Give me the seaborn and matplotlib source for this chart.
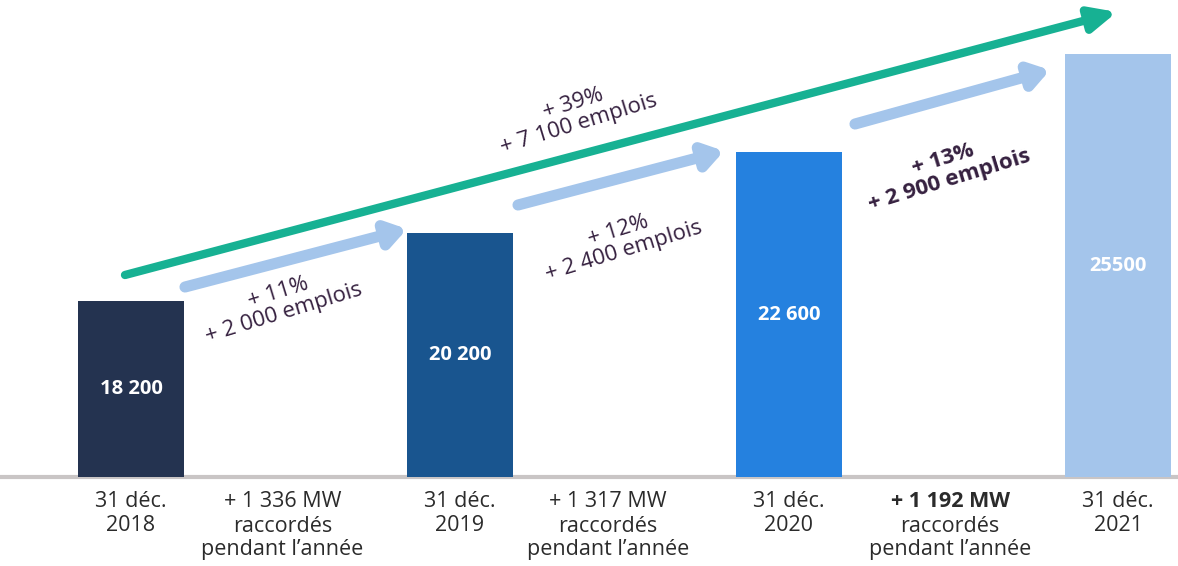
import matplotlib
matplotlib.use("Agg")
import matplotlib.pyplot as plt
import seaborn as sns
import pandas as pd

# data
dates = ["31 déc.\n2018", "31 déc.\n2019", "31 déc.\n2020", "31 déc.\n2021"]
jobs = [18200, 20200, 22600, 25500]
job_labels = ["18 200", "20 200", "22 600", "25500"]
mw_added = ["+ 1 336 MW", "+ 1 317 MW", "+ 1 192 MW"]
growth = ["+ 11%\n+ 2 000 emplois", "+ 12%\n+ 2 400 emplois", "+ 13%\n+ 2 900 emplois"]
total_growth = "+ 39%\n+ 7 100 emplois"
bar_colors = ["#243350", "#19558f", "#2581df", "#a4c5eb"]

sns.set_theme(style="white")
plt.rcParams["font.family"] = ["Open Sans", "DejaVu Sans"]

W, H = 1178, 566
fig = plt.figure(figsize=(W / 100, H / 100), dpi=100)
ax = fig.add_axes([0, 89 / H, 1, 477 / H])

pos = [0, 2, 4, 6]
df = pd.DataFrame({"pos": pos, "jobs": jobs, "date": dates})
sns.barplot(data=df, x="pos", y="jobs", hue="date", palette=bar_colors,
            native_scale=True, width=0.322, legend=False, ax=ax,
            saturation=1, linewidth=0)

ax.set_xlim(-0.796, 6.365)
ax.set_ylim(12978, 27103)
ax.axis("off")
ax.axhline(12978, color="#c9c5c5", lw=3, clip_on=False, zorder=0)

# values inside the bars
for p, v, lab in zip(pos, jobs, job_labels):
    ax.text(p, (v + 12978) / 2, lab, ha="center", va="center", color="white",
            fontsize=14.5, fontweight="bold")

# labels under the axis
tr = ax.get_xaxis_transform()
txt_col = "#2b2b2b"
fs = 15.5
y0 = -0.03
for p, d in zip(pos, dates):
    ax.text(p, y0, d, transform=tr, ha="center", va="top", fontsize=fs,
            color=txt_col, linespacing=1.15)
mid_x = [0.92, 2.9, 4.98]
for i, (x, m) in enumerate(zip(mid_x, mw_added)):
    ax.text(x, y0, m, transform=tr, ha="center", va="top", fontsize=fs,
            color=txt_col, fontweight="bold" if i == 2 else "normal")
    ax.text(x, y0 - 0.0515, "raccordés\npendant l’année", transform=tr,
            ha="center", va="top", fontsize=fs, color=txt_col, linespacing=1.15)

# arrows (pixel layout, from top-left)
def fp(x, y):
    return (x / W, 1 - y / H)

ax.annotate("", xy=fp(1117, 12), xytext=fp(125, 275), xycoords="figure fraction",
            textcoords="figure fraction",
            arrowprops=dict(arrowstyle="-|>,head_length=1.3,head_width=0.6",
                            color="#17b193", lw=6, shrinkA=0, shrinkB=0))
blue_arrows = [((185, 287), (407, 229)), ((518, 205), (724, 151)), ((855, 124), (1050, 70))]
for (x0, y0_), (x1, y1) in blue_arrows:
    ax.annotate("", xy=fp(x1, y1), xytext=fp(x0, y0_), xycoords="figure fraction",
                textcoords="figure fraction",
                arrowprops=dict(arrowstyle="-|>,head_length=0.9,head_width=0.6",
                                color="#a4c5eb", lw=8, shrinkA=0, shrinkB=0))

# growth annotations
purple = "#35203f"
label_pos = [(281, 303), (621, 241), (946, 170)]
for i, ((x, y), g) in enumerate(zip(label_pos, growth)):
    fig.text(*fp(x, y), g, ha="center", va="center", rotation=17,
             rotation_mode="anchor", multialignment="center", fontsize=16,
             color=purple, fontweight="bold" if i == 2 else "normal", linespacing=1.05)
fig.text(*fp(576, 114), total_growth, ha="center", va="center", rotation=17,
         rotation_mode="anchor", multialignment="center", fontsize=16,
         color=purple, linespacing=1.05)

fig.savefig("out.png", dpi=100)
